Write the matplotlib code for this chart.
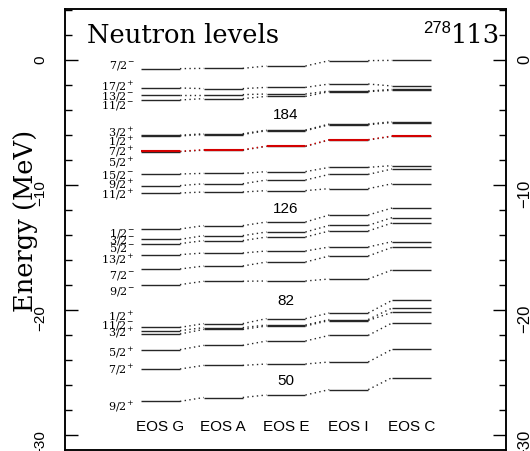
import matplotlib
matplotlib.use('Agg')
import matplotlib.pyplot as plt
from matplotlib.ticker import MultipleLocator

# ---------------- data ----------------
columns = ['EOS G', 'EOS A', 'EOS E', 'EOS I', 'EOS C']

level_labels = ['7/2-', '17/2+', '13/2-', '11/2-', '3/2+', '1/2+', '7/2+', '5/2+',
                '15/2-', '9/2+', '11/2+', '1/2-', '3/2-', '5/2-', '13/2+', '7/2-',
                '9/2-', '1/2+', '11/2-', '3/2+', '5/2+', '7/2+', '9/2+']

# display position (MeV) of each level label, spread to avoid overlap
label_energy = [-0.32, -2.08, -2.80, -3.52, -5.76, -6.48, -7.28, -8.12,
                -9.12, -9.92, -10.72, -13.80, -14.32, -14.96, -15.92, -17.12,
                -18.48, -20.46, -21.12, -21.74, -23.38, -24.72, -27.66]

eos_g = [-0.69, -2.24, -2.77, -3.20, -6.02, -6.08, -7.30, -7.33,
         -9.12, -10.05, -10.64, -13.52, -14.35, -14.69, -15.57, -16.72,
         -17.97, -21.39, -21.65, -21.92, -23.17, -24.72, -27.31]
eos_a = [-0.67, -2.29, -2.77, -3.09, -5.90, -5.96, -7.18, -7.21,
         -9.07, -9.90, -10.56, -13.25, -14.05, -14.45, -15.44, -16.48,
         -17.70, -21.09, -21.41, -21.55, -22.83, -24.43, -27.00]
eos_e = [-0.48, -2.19, -2.72, -2.91, -5.60, -5.66, -6.88, -6.91,
         -8.93, -9.60, -10.45, -12.96, -13.76, -14.16, -15.28, -16.16,
         -17.68, -20.69, -21.20, -21.28, -22.48, -24.32, -26.80]
eos_i = [-0.05, -1.92, -2.48, -2.53, -5.12, -5.18, -6.37, -6.40,
         -8.59, -9.15, -10.29, -12.40, -13.23, -13.68, -14.96, -15.68,
         -17.52, -20.24, -20.76, -20.84, -22.03, -24.16, -26.37]
eos_c = [-0.03, -2.08, -2.35, -2.42, -4.94, -5.00, -6.08, -6.11,
         -8.45, -8.72, -9.90, -11.84, -12.61, -13.04, -14.53, -14.99,
         -16.80, -19.23, -19.84, -20.19, -21.04, -23.15, -25.41]

highlight_level = 6          # 7/2+ level drawn in red

magic_numbers = ['184', '126', '82', '50']
magic_energy = [-4.30, -11.85, -19.17, -25.60]

yticks = [0, -10, -20, -30]

# ---------------- plot ----------------
series = [eos_g, eos_a, eos_e, eos_i, eos_c]

fig = plt.figure(figsize=(5.3, 4.52), dpi=100)
ax = fig.add_axes([65 / 530, 1 / 452, 441 / 530, 441 / 452])

ylim = (-31.2, 4.08)
xlim = (-1.522, 5.506)
hw = 0.31

line_col = '#262626'
red_col = '#d40000'

order = [j for j in range(len(level_labels)) if j != highlight_level] + [highlight_level]
for j in order:
    col = red_col if j == highlight_level else line_col
    lw = 1.5 if j == highlight_level else 1.0
    for i, s in enumerate(series):
        ax.plot([i - hw, i + hw], [s[j], s[j]], color=col, lw=lw,
                solid_capstyle='butt', zorder=3 if j == highlight_level else 2)
        if i < len(series) - 1:
            ax.plot([i + hw, i + 1 - hw], [s[j], series[i + 1][j]],
                    color=col, lw=1.0, ls=(0, (1, 2.4)),
                    zorder=3 if j == highlight_level else 2)

# level labels
for lab, ey in zip(level_labels, label_energy):
    txt = r'$\mathregular{%s^{%s}}$' % (lab[:-1], lab[-1])
    ax.text(-0.42, ey, txt, ha='right', va='center', fontsize=8,
            family='DejaVu Serif', color='black')

# magic numbers
for m, ey in zip(magic_numbers, magic_energy):
    ax.text(2, ey, m, ha='center', va='center', fontsize=11,
            family='Liberation Sans')

# column names
for i, c in enumerate(columns):
    ax.text(i, -29.3, c, ha='center', va='center', fontsize=11,
            family='Liberation Sans')

ax.set_xlim(*xlim)
ax.set_ylim(*ylim)
ax.set_xticks([])
ax.set_yticks(yticks)
ax.set_yticklabels([('%d' % v).replace('-', '\u2212') for v in yticks],
                   family='Liberation Sans')
ax.yaxis.set_minor_locator(MultipleLocator(2))
ax.tick_params(axis='y', which='major', direction='in', length=9.4, width=1,
               labelsize=11, pad=13, labelrotation=90, right=False)
ax.tick_params(axis='y', which='minor', direction='in', length=5, width=1,
               right=False)
for sp in ax.spines.values():
    sp.set_linewidth(1.1)

ax2 = ax.twinx()
ax2.set_ylim(*ylim)
ax2.set_yticks(yticks)
ax2.set_yticklabels([('%d' % v).replace('-', '\u2212') for v in yticks],
                    family='Liberation Sans')
ax2.yaxis.set_minor_locator(MultipleLocator(2))
ax2.tick_params(axis='y', which='major', direction='in', length=9.4, width=1,
                labelsize=12, pad=8, labelrotation=90)
ax2.tick_params(axis='y', which='minor', direction='in', length=5, width=1)
for sp in ax2.spines.values():
    sp.set_linewidth(1.1)

# titles
fig.text(87 / 530, 1 - 43 / 452, 'Neutron levels', ha='left', va='baseline',
         fontsize=18.5, family='DejaVu Serif')
fig.text(500 / 530, 1 - 43 / 452, '113', ha='right', va='baseline',
         fontsize=18.5, family='DejaVu Serif')
fig.text(451 / 530, 1 - 33 / 452, '278', ha='right', va='baseline',
         fontsize=12, family='Liberation Sans')
fig.text(25 / 530, 1 - 221 / 452, 'Energy (MeV)', ha='center', va='center',
         rotation=90, fontsize=18.5, family='DejaVu Serif')

fig.savefig('out.png', dpi=100)
